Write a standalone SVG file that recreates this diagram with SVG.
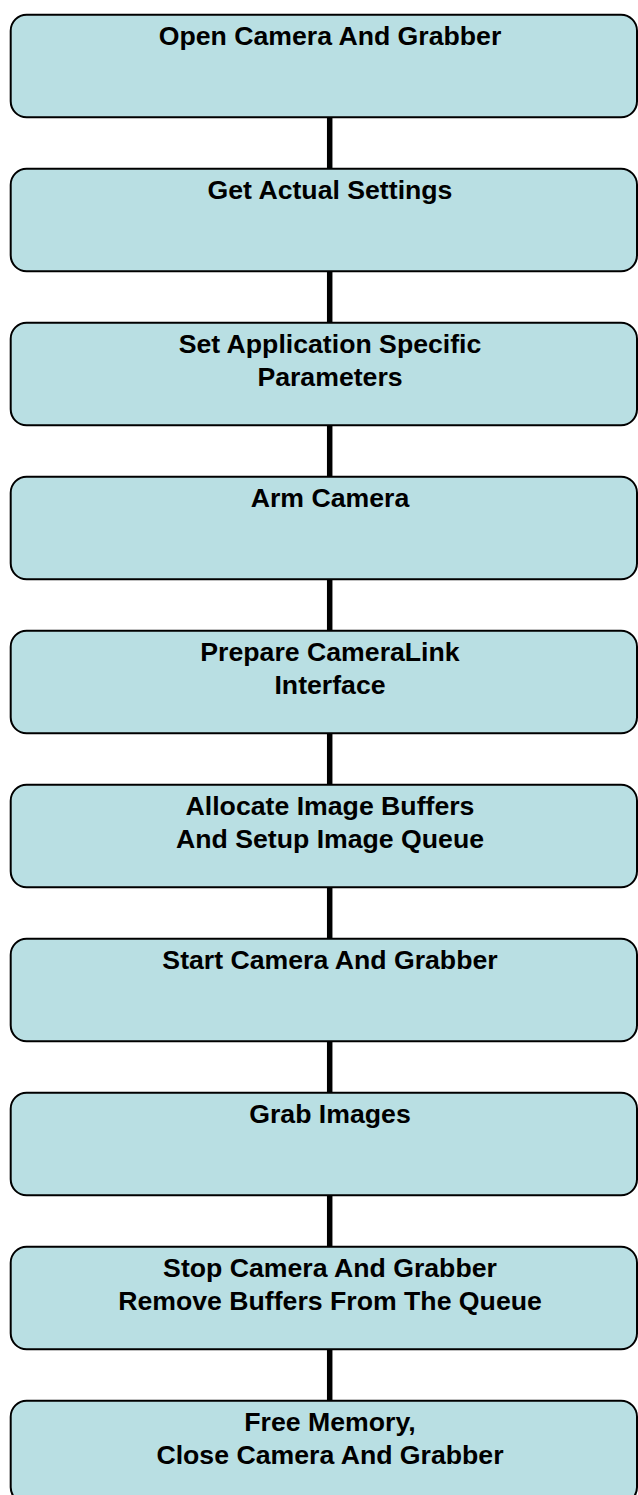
<svg xmlns="http://www.w3.org/2000/svg" width="638" height="1495" viewBox="0 0 638 1495">
<style>
.box{fill:#b9dfe3;stroke:#000;stroke-width:2}
.t{font-family:"Liberation Sans",Arial,sans-serif;font-weight:bold;font-size:26.67px;fill:#000;text-anchor:middle}
.c{stroke:#000;stroke-width:5.5;fill:none}
</style>
<rect width="638" height="1495" fill="#fff"/>
<g id="connectors">
<line class="c" x1="329.7" y1="117.3" x2="329.7" y2="168.7"/>
<line class="c" x1="329.7" y1="271.3" x2="329.7" y2="322.7"/>
<line class="c" x1="329.7" y1="425.3" x2="329.7" y2="476.7"/>
<line class="c" x1="329.7" y1="579.3" x2="329.7" y2="630.7"/>
<line class="c" x1="329.7" y1="733.3" x2="329.7" y2="784.7"/>
<line class="c" x1="329.7" y1="887.3" x2="329.7" y2="938.7"/>
<line class="c" x1="329.7" y1="1041.3" x2="329.7" y2="1092.7"/>
<line class="c" x1="329.7" y1="1195.3" x2="329.7" y2="1246.7"/>
<line class="c" x1="329.7" y1="1349.3" x2="329.7" y2="1400.7"/>
</g>
<g id="n1"><rect class="box" x="10.7" y="14.7" width="626.3" height="102.6" rx="16"/><text class="t" x="330" y="44.7">Open Camera And Grabber</text></g>
<g id="n2"><rect class="box" x="10.7" y="168.7" width="626.3" height="102.6" rx="16"/><text class="t" x="330" y="198.7">Get Actual Settings</text></g>
<g id="n3"><rect class="box" x="10.7" y="322.7" width="626.3" height="102.6" rx="16"/><text class="t" x="330" y="352.7">Set Application Specific</text><text class="t" x="330" y="385.7">Parameters</text></g>
<g id="n4"><rect class="box" x="10.7" y="476.7" width="626.3" height="102.6" rx="16"/><text class="t" x="330" y="506.7">Arm Camera</text></g>
<g id="n5"><rect class="box" x="10.7" y="630.7" width="626.3" height="102.6" rx="16"/><text class="t" x="330" y="660.7">Prepare CameraLink</text><text class="t" x="330" y="693.7">Interface</text></g>
<g id="n6"><rect class="box" x="10.7" y="784.7" width="626.3" height="102.6" rx="16"/><text class="t" x="330" y="814.7">Allocate Image Buffers</text><text class="t" x="330" y="847.7">And Setup Image Queue</text></g>
<g id="n7"><rect class="box" x="10.7" y="938.7" width="626.3" height="102.6" rx="16"/><text class="t" x="330" y="968.7">Start Camera And Grabber</text></g>
<g id="n8"><rect class="box" x="10.7" y="1092.7" width="626.3" height="102.6" rx="16"/><text class="t" x="330" y="1122.7">Grab Images</text></g>
<g id="n9"><rect class="box" x="10.7" y="1246.7" width="626.3" height="102.6" rx="16"/><text class="t" x="330" y="1276.7">Stop Camera And Grabber</text><text class="t" x="330" y="1309.7">Remove Buffers From The Queue</text></g>
<g id="n10"><rect class="box" x="10.7" y="1400.7" width="626.3" height="102.6" rx="16"/><text class="t" x="330" y="1430.7">Free Memory,</text><text class="t" x="330" y="1463.7">Close Camera And Grabber</text></g>
</svg>
